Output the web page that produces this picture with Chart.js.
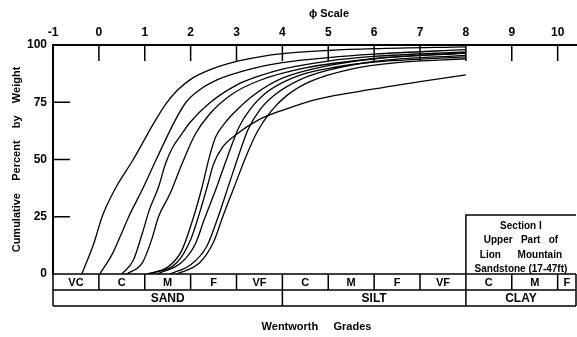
<!DOCTYPE html>
<html>
<head>
<meta charset="utf-8">
<script src="https://cdn.jsdelivr.net/npm/chart.js@4.4.0/dist/chart.umd.min.js"></script>
<style>
  html, body { margin: 0; padding: 0; background: #fff; }
</style>
</head>
<body>
<canvas id="grain-chart" width="577" height="337"></canvas>
<script>
var phiTicks = [-1, 0, 1, 2, 3, 4, 5, 6, 7, 8, 9, 10];
var pctTicks = [0, 25, 50, 75, 100];
var innerPhiTicks = [0, 1, 2, 3, 4, 5, 6, 7, 8, 9, 10];
var innerPctTicks = [25, 50, 75];

// wentworth grade cells (left edge in phi)
var gradeNames = ['VC', 'C', 'M', 'F', 'VF', 'C', 'M', 'F', 'VF', 'C', 'M', 'F'];
var gradeEdges = [-1, 0, 1, 2, 3, 4, 5, 6, 7, 8, 9, 10];
var classNames = ['SAND', 'SILT', 'CLAY'];
var classEdges = [-1, 4, 8];
var legendLines = ['Section I', 'Upper   Part   of', 'Lion      Mountain', 'Sandstone (17-47ft)'];

// cumulative curves, one pair of arrays per sample
var phiA = [-0.37, -0.1, 0.07, 0.35, 0.75, 1.2, 1.45, 1.7, 2.0, 2.4, 3, 3.5, 4, 5, 6, 8];
var pctA = [0, 14, 25, 37, 50, 66, 74, 80, 85, 89, 92.8, 94.8, 96.2, 97.6, 98.4, 99.2];
var phiB = [0.02, 0.3, 0.5, 0.65, 0.95, 1.25, 1.66, 1.9, 2.2, 2.6, 3.3, 4, 5, 6, 8];
var pctB = [0, 9, 18, 25, 37, 50, 67, 75, 80.5, 85, 89.5, 92.3, 94.5, 96, 98];
var phiC = [0.5, 0.75, 0.95, 1.1, 1.3, 1.45, 1.6, 1.8, 2.0, 2.4, 3, 3.5, 4, 5, 6, 8];
var pctC = [0, 6, 18, 28, 38, 48, 55, 61, 66.5, 74.5, 82.5, 86.5, 89.5, 93, 95, 97];
var phiD = [0.61, 0.95, 1.15, 1.3, 1.55, 1.81, 2.1, 2.42, 2.9, 3.5, 4.5, 6, 8];
var pctD = [0, 5, 15, 25, 35, 48, 61, 70, 78.5, 84.5, 90, 94, 96.5];
var phiE = [1.05, 1.5, 1.8, 2.05, 2.25, 2.42, 2.55, 2.75, 3.0, 3.4, 4, 5, 6, 8];
var pctE = [0, 3, 10, 24, 38, 52, 60, 66, 71.5, 78.5, 85.5, 91, 94, 96.5];
var phiF = [1.11, 1.7, 2.0, 2.2, 2.36, 2.5, 2.7, 3.0, 3.5, 4, 4.75, 6, 7, 8];
var pctF = [0, 5, 15, 27, 38, 48, 55.5, 61, 67.5, 71.5, 76.3, 80.8, 84, 87];
var phiG = [1.27, 1.8, 2.1, 2.3, 2.55, 2.8, 3.05, 3.3, 3.7, 4.4, 5.2, 6, 8];
var pctG = [0, 5, 13, 24, 37, 51, 64, 72, 80, 87, 90.5, 92.5, 94.8];
var phiH = [1.55, 2.0, 2.35, 2.6, 2.85, 3.05, 3.25, 3.5, 3.85, 4.4, 5, 6, 8];
var pctH = [0, 4, 12, 25, 40, 52, 63, 71.5, 78.5, 85, 89, 92.8, 95.5];
var phiI = [1.7, 2.2, 2.5, 2.7, 2.95, 3.2, 3.45, 3.75, 4.1, 4.6, 5.5, 6.5, 8];
var pctI = [0, 5, 14, 25, 38, 51, 62, 71, 78, 84, 89.5, 92.3, 94];

var samples = [
    [phiA, pctA], [phiB, pctB], [phiC, pctC], [phiD, pctD], [phiE, pctE],
    [phiF, pctF], [phiG, pctG], [phiH, pctH], [phiI, pctI]
];

var datasets = samples.map(function (s) {
    return {
        data: s[0].map(function (p, i) { return {x: p, y: s[1][i]}; }),
        borderColor: '#000',
        borderWidth: 1.3,
        pointRadius: 0,
        cubicInterpolationMode: 'monotone',
        fill: false
    };
});

var font = 'Liberation Sans, Arial, sans-serif';

var gradePlugin = {
    id: 'grades',
    afterDraw: function (chart) {
        var ctx = chart.ctx;
        var a = chart.chartArea;
        var x = chart.scales.x;
        var y = chart.scales.y;
        var row1 = y.getPixelForValue(0);
        var row2 = row1 + 16;
        var row3 = row2 + 16;

        ctx.save();
        ctx.strokeStyle = '#000';
        ctx.fillStyle = '#000';
        ctx.lineWidth = 1.5;
        ctx.beginPath();
        // inner ticks
        innerPhiTicks.forEach(function (v) {
            var px = x.getPixelForValue(v);
            ctx.moveTo(px, a.top);
            ctx.lineTo(px, a.top + 16);
        });
        innerPctTicks.forEach(function (v) {
            var py = y.getPixelForValue(v);
            ctx.moveTo(a.left, py);
            ctx.lineTo(a.left + 17, py);
        });
        // grade table
        ctx.moveTo(a.left, a.top);
        ctx.lineTo(a.left, row3);
        [row1, row2, row3].forEach(function (r) {
            ctx.moveTo(a.left, r);
            ctx.lineTo(a.right, r);
        });
        ctx.moveTo(a.right, row1);
        ctx.lineTo(a.right, row3);
        gradeEdges.forEach(function (v) {
            var px = x.getPixelForValue(v);
            ctx.moveTo(px, row1);
            ctx.lineTo(px, row2);
        });
        classEdges.forEach(function (v) {
            var px = x.getPixelForValue(v);
            ctx.moveTo(px, row2);
            ctx.lineTo(px, row3);
        });
        // legend box
        var lx = x.getPixelForValue(8);
        var ly = row1 - 59;
        ctx.moveTo(lx, row1);
        ctx.lineTo(lx, ly);
        ctx.lineTo(a.right, ly);
        ctx.stroke();

        ctx.textAlign = 'center';
        ctx.textBaseline = 'middle';
        ctx.font = 'bold 11px ' + font;
        gradeNames.forEach(function (n, i) {
            var l = x.getPixelForValue(gradeEdges[i]);
            var r = i + 1 < gradeEdges.length ? x.getPixelForValue(gradeEdges[i + 1]) : a.right;
            ctx.fillText(n, (l + r) / 2, row1 + 8.5);
        });
        ctx.font = 'bold 12px ' + font;
        classNames.forEach(function (n, i) {
            var l = x.getPixelForValue(classEdges[i]);
            var r = i + 1 < classEdges.length ? x.getPixelForValue(classEdges[i + 1]) : a.right;
            ctx.fillText(n, (l + r) / 2, row2 + 8.5);
        });

        ctx.font = 'bold 10px ' + font;
        legendLines.forEach(function (t, i) {
            ctx.fillText(t, (lx + a.right) / 2, ly + 11 + i * 14.5);
        });

        ctx.font = 'bold 11px ' + font;
        ctx.fillText('\u03D5 Scale', 329, 14);
        ctx.fillText('Wentworth     Grades', (a.left + a.right) / 2 + 2, 327);
        ctx.restore();
    }
};

new Chart(document.getElementById('grain-chart'), {
    type: 'line',
    data: {datasets: datasets},
    plugins: [gradePlugin],
    options: {
        responsive: false,
        animation: false,
        layout: {padding: {left: 0, top: 0, right: 1, bottom: 63}},
        plugins: {legend: {display: false}, tooltip: {enabled: false}},
        scales: {
            x: {
                type: 'linear',
                position: 'top',
                min: -1,
                max: 10.4,
                grid: {display: false, drawTicks: false},
                border: {display: true, color: '#000', width: 2},
                ticks: {color: '#000', padding: 5, font: {family: font, size: 12, weight: 'bold'}},
                afterBuildTicks: function (s) {
                    s.ticks = phiTicks.map(function (v) { return {value: v}; });
                },
                afterFit: function (s) { s.height = 45; }
            },
            y: {
                min: 0,
                max: 100,
                grid: {display: false, drawTicks: false},
                border: {display: true, color: '#000', width: 2},
                ticks: {color: '#000', padding: 6, font: {family: font, size: 12, weight: 'bold'}},
                afterBuildTicks: function (s) {
                    s.ticks = pctTicks.map(function (v) { return {value: v}; });
                },
                title: {
                    display: true,
                    text: 'Cumulative    Percent    by    Weight',
                    color: '#000',
                    font: {family: font, size: 11, weight: 'bold'},
                    padding: {top: 10, bottom: 0}
                },
                afterFit: function (s) { s.width = 53; }
            }
        }
    }
});
</script>
</body>
</html>
